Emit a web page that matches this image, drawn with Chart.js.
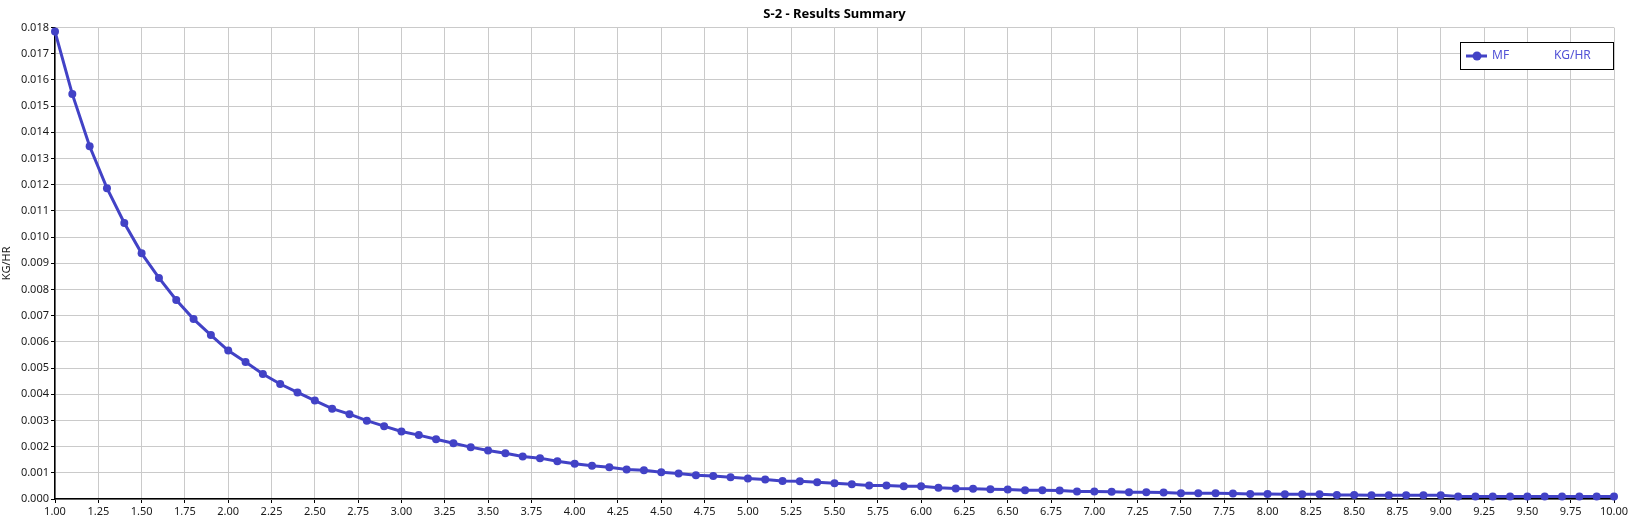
<!DOCTYPE html>
<html>
<head>
<meta charset="utf-8">
<title>S-2 - Results Summary</title>
<script src="https://cdn.jsdelivr.net/npm/chart.js@4/dist/chart.umd.min.js"></script>
<style>
  html, body { margin: 0; padding: 0; background: #fff; }
  #wrap { width: 1637px; height: 529px; }
</style>
</head>
<body>
<div id="wrap"><canvas id="myChart"></canvas></div>
<script>
// data
const chartTitle = 'S-2 - Results Summary';
const seriesName = 'MF';
const unitName = 'KG/HR';

const xValues = [
  1.0, 1.1, 1.2, 1.3, 1.4, 1.5, 1.6, 1.7, 1.8, 1.9,
  2.0, 2.1, 2.2, 2.3, 2.4, 2.5, 2.6, 2.7, 2.8, 2.9,
  3.0, 3.1, 3.2, 3.3, 3.4, 3.5, 3.6, 3.7, 3.8, 3.9,
  4.0, 4.1, 4.2, 4.3, 4.4, 4.5, 4.6, 4.7, 4.8, 4.9,
  5.0, 5.1, 5.2, 5.3, 5.4, 5.5, 5.6, 5.7, 5.8, 5.9,
  6.0, 6.1, 6.2, 6.3, 6.4, 6.5, 6.6, 6.7, 6.8, 6.9,
  7.0, 7.1, 7.2, 7.3, 7.4, 7.5, 7.6, 7.7, 7.8, 7.9,
  8.0, 8.1, 8.2, 8.3, 8.4, 8.5, 8.6, 8.7, 8.8, 8.9,
  9.0, 9.1, 9.2, 9.3, 9.4, 9.5, 9.6, 9.7, 9.8, 9.9,
  10.0
];

const mfValues = [
  0.01785, 0.01546, 0.01347, 0.01187, 0.01054, 0.00938, 0.00844, 0.00760, 0.00687, 0.00626,
  0.00567, 0.00523, 0.00477, 0.00439, 0.00407, 0.00376, 0.00345, 0.00324, 0.00299, 0.00278,
  0.00258, 0.00244, 0.00228, 0.00213, 0.00198, 0.00185, 0.00175, 0.00162, 0.00156, 0.00144,
  0.00135, 0.00127, 0.00121, 0.00113, 0.00110, 0.00102, 0.00097, 0.00091, 0.00088, 0.00083,
  0.00078, 0.00074, 0.00069, 0.00068, 0.00064, 0.00060, 0.00056, 0.00052, 0.00052, 0.00049,
  0.00049, 0.00043, 0.00040, 0.00039, 0.00037, 0.00036, 0.00033, 0.00033, 0.00032, 0.00029,
  0.00029, 0.00028, 0.00026, 0.00026, 0.00025, 0.00022, 0.00022, 0.00022, 0.00021, 0.00019,
  0.00019, 0.00018, 0.00018, 0.00018, 0.00015, 0.00015, 0.00014, 0.00014, 0.00014, 0.00014,
  0.00014, 0.00010, 0.00010, 0.00010, 0.00010, 0.00010, 0.00010, 0.00010, 0.00010, 0.00010,
  0.00010
];

const xMin = 1, xMax = 10, xStep = 0.25;
const yMin = 0, yMax = 0.018, yStep = 0.001;

const lineColor = '#4242c6';
const legendTextColor = '#5252d6';
const gridColor = '#cacaca';
const fontFamily = '"Noto Sans", "DejaVu Sans", sans-serif';

// legend box drawn inside the plot, top right
const insideLegend = {
  id: 'insideLegend',
  afterDraw(chart) {
    const { ctx, chartArea } = chart;
    const w = 154, h = 28;
    const x = chartArea.right - w, y = 42;
    ctx.save();
    ctx.fillStyle = '#fff';
    ctx.fillRect(x, y, w, h);
    ctx.strokeStyle = '#000';
    ctx.lineWidth = 1;
    ctx.strokeRect(x + 0.5, y + 0.5, w - 1, h - 1);
    const cy = y + h / 2;
    ctx.strokeStyle = lineColor;
    ctx.lineWidth = 3;
    ctx.beginPath();
    ctx.moveTo(x + 6, cy);
    ctx.lineTo(x + 27, cy);
    ctx.stroke();
    ctx.fillStyle = lineColor;
    ctx.beginPath();
    ctx.arc(x + 17, cy, 4.5, 0, Math.PI * 2);
    ctx.fill();
    ctx.fillStyle = legendTextColor;
    ctx.font = '12px ' + fontFamily;
    ctx.textBaseline = 'middle';
    ctx.fillText(chart.data.datasets[0].label, x + 32, cy);
    ctx.fillText(unitName, x + 94, cy);
    ctx.restore();
  }
};

const points = xValues.map((x, i) => ({ x: x, y: mfValues[i] }));

new Chart(document.getElementById('myChart'), {
  type: 'line',
  data: {
    datasets: [{
      label: seriesName,
      data: points,
      borderColor: lineColor,
      backgroundColor: lineColor,
      borderWidth: 3,
      pointRadius: 4,
      pointHoverRadius: 4,
      pointBorderWidth: 0,
      tension: 0,
      clip: false
    }]
  },
  options: {
    responsive: true,
    maintainAspectRatio: false,
    animation: false,
    layout: { padding: { top: 0, right: 23, bottom: 0, left: 0 } },
    plugins: {
      legend: { display: false },
      tooltip: { enabled: false },
      title: {
        display: true,
        text: chartTitle,
        fullSize: false,
        color: '#000',
        font: { family: fontFamily, size: 13, weight: 'bold' },
        padding: { top: 6, bottom: 6 }
      }
    },
    scales: {
      x: {
        type: 'linear',
        min: xMin,
        max: xMax,
        afterFit(scale) { scale.height = 30; },
        afterBuildTicks(scale) {
          scale.ticks = [];
          for (let v = xMin; v <= xMax + 1e-9; v += xStep) scale.ticks.push({ value: +v.toFixed(2) });
        },
        ticks: {
          autoSkip: false,
          maxRotation: 0,
          color: '#1a1a1a',
          font: { family: fontFamily, size: 11 },
          padding: 2,
          callback: v => Number(v).toFixed(2)
        },
        grid: { color: gridColor, lineWidth: 1, tickColor: '#000', tickLength: 4 },
        border: { color: '#000', width: 1.5 }
      },
      y: {
        type: 'linear',
        min: yMin,
        max: yMax,
        afterFit(scale) { scale.width = 55; },
        ticks: {
          stepSize: yStep,
          autoSkip: false,
          color: '#1a1a1a',
          font: { family: fontFamily, size: 11 },
          padding: 2,
          callback: v => Number(v).toFixed(3)
        },
        title: {
          display: true,
          text: unitName,
          color: '#1a1a1a',
          font: { family: fontFamily, size: 11 },
          padding: { top: 0, bottom: 0 }
        },
        grid: { color: gridColor, lineWidth: 1, tickColor: '#000', tickLength: 4 },
        border: { color: '#000', width: 1.5 }
      }
    }
  },
  plugins: [insideLegend]
});
</script>
</body>
</html>
